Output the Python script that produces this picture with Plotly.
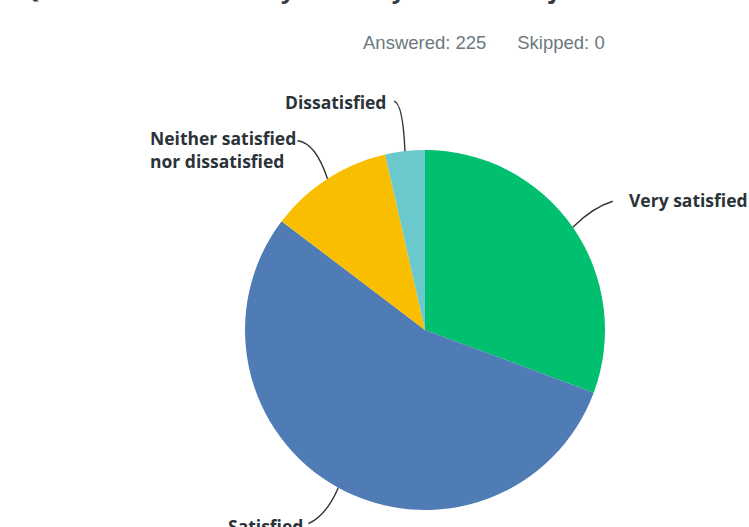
import math
import plotly.graph_objects as go

# ---- data ----
categories = ["Very satisfied", "Satisfied", "Neither satisfied<br>nor dissatisfied", "Dissatisfied"]
counts = [69, 123, 25, 8]
colors = ["#00BF6F", "#507CB6", "#F9BE00", "#6BC8CD"]
answered = 225
skipped = 0
title_text = "Q4: How satisfied are you with your current job overall?"

W, H = 749, 527
CX, CY, R = 425, 330, 180


def px(x):
    return x / W


def py(y):
    return 1 - y / H


fig = go.Figure()
fig.add_trace(go.Pie(
    labels=categories,
    values=counts,
    marker=dict(colors=colors, line=dict(width=0)),
    sort=False,
    direction="clockwise",
    rotation=0,
    textinfo="none",
    hoverinfo="label+value+percent",
    showlegend=False,
    domain=dict(x=[px(CX - R), px(CX + R)], y=[py(CY + R), py(CY - R)]),
))

# compute mid-angle anchor points on the pie edge from the data
total = sum(counts)
anchors = []
acc = 0
for v in counts:
    mid = (acc + v / 2) / total * 2 * math.pi
    acc += v
    anchors.append((CX + R * math.sin(mid), CY - R * math.cos(mid)))

# label placement (offsets from anchors)
layout_specs = [
    dict(c=(20, -20), e=(40, -26), xanchor="left", t=(55, -27)),
    dict(c=(-12, 28), e=(-30, 36), xanchor="right", t=(-34, 38)),
    dict(c=(-12, -36), e=(-30, -38), xanchor="right", t=(-30, -54)),
    dict(c=(-2, -48), e=(-11, -50), xanchor="right", t=(-18, -49)),
]

shapes = []
annotations = []
for (ax, ay), spec, lab in zip(anchors, layout_specs, categories):
    cx_, cy_ = ax + spec["c"][0], ay + spec["c"][1]
    ex, ey = ax + spec["e"][0], ay + spec["e"][1]
    path = "M {},{} Q {},{} {},{}".format(px(ax), py(ay), px(cx_), py(cy_), px(ex), py(ey))
    shapes.append(dict(type="path", path=path, xref="paper", yref="paper",
                       line=dict(color="#333333", width=1.4)))
    tx, ty = ax + spec["t"][0], ay + spec["t"][1]
    multi = "<br>" in lab
    annotations.append(dict(
        text="<b>" + lab.replace("<br>", "</b><br><b>") + "</b>",
        x=px(tx), y=py(ty),
        xref="paper", yref="paper",
        xanchor=spec["xanchor"], yanchor="top" if multi else "middle",
        align="left", showarrow=False, borderpad=0,
        font=dict(family="Open Sans, sans-serif", size=17.5, color="#2b3338"),
    ))

# summary line
annotations.append(dict(
    text="Answered: {}&nbsp;&nbsp;&nbsp;&nbsp;&nbsp;&nbsp;Skipped: {}".format(answered, skipped),
    x=px(361), y=py(43), xref="paper", yref="paper",
    xanchor="left", yanchor="middle", showarrow=False,
    font=dict(family="Liberation Sans, Arial, sans-serif", size=18.5, color="#6b7880"),
))

# question title (cut off at the top, as in the reference)
annotations.append(dict(
    text="<b>" + title_text + "</b>",
    x=px(20), y=py(6), xref="paper", yref="paper",
    xanchor="left", yanchor="bottom", showarrow=False, borderpad=0,
    font=dict(family="Open Sans, sans-serif", size=24, color="#333e48"),
))

fig.update_layout(
    width=W, height=H,
    margin=dict(l=0, r=0, t=0, b=0),
    paper_bgcolor="white", plot_bgcolor="white",
    shapes=shapes, annotations=annotations,
)

fig.write_html(
    "out.html",
    config={"displayModeBar": False},
    post_script="document.body.style.margin='0';document.body.style.overflow='hidden';",
)
